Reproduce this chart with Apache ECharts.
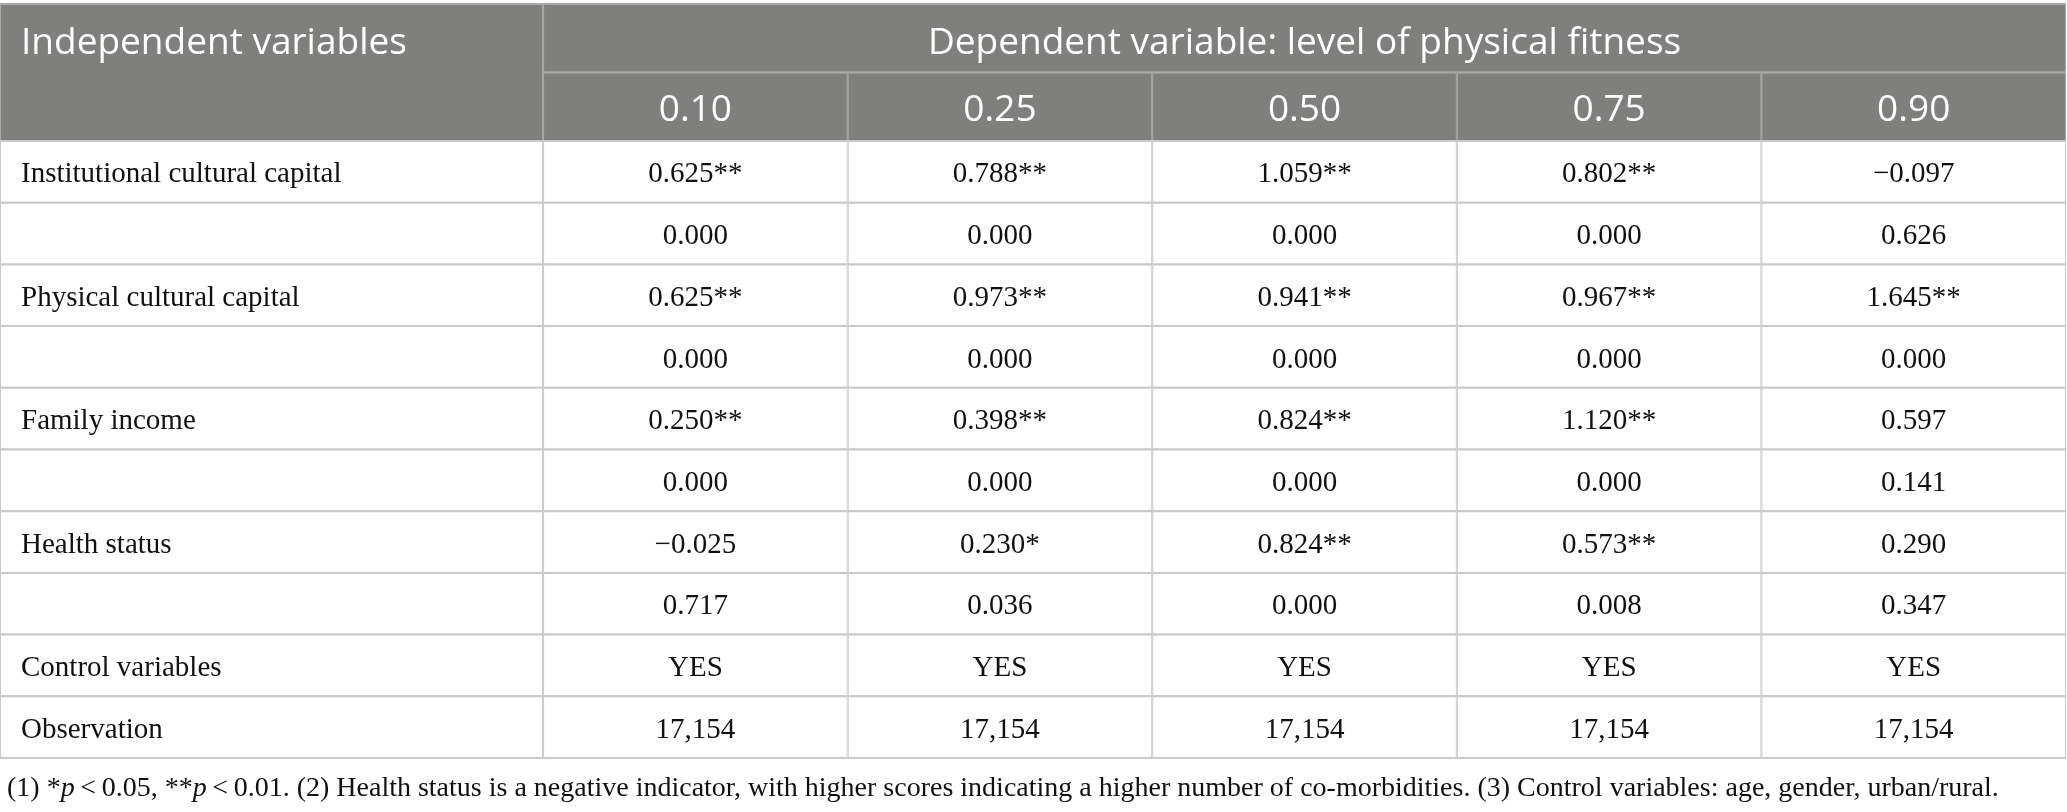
<!DOCTYPE html>
<html>
<head>
<meta charset="utf-8">
<title>Quantile regression table</title>
<style>
  html, body { margin: 0; padding: 0; background: #ffffff; }
  #chart { width: 2067px; height: 812px; }
</style>
<script src="https://cdn.jsdelivr.net/npm/echarts@6/dist/echarts.min.js"></script>
</head>
<body>
<div id="chart"></div>
<script>
// table content
const stubHead = 'Independent variables';
const spanHead = 'Dependent variable: level of physical fitness';
const quantiles = ['0.10', '0.25', '0.50', '0.75', '0.90'];
const rowLabels = [
    'Institutional cultural capital', '',
    'Physical cultural capital', '',
    'Family income', '',
    'Health status', '',
    'Control variables',
    'Observation'
];
const institutionalCoef = ['0.625**', '0.788**', '1.059**', '0.802**', '\u22120.097'];
const institutionalP    = ['0.000', '0.000', '0.000', '0.000', '0.626'];
const physicalCoef      = ['0.625**', '0.973**', '0.941**', '0.967**', '1.645**'];
const physicalP         = ['0.000', '0.000', '0.000', '0.000', '0.000'];
const incomeCoef        = ['0.250**', '0.398**', '0.824**', '1.120**', '0.597'];
const incomeP           = ['0.000', '0.000', '0.000', '0.000', '0.141'];
const healthCoef        = ['\u22120.025', '0.230*', '0.824**', '0.573**', '0.290'];
const healthP           = ['0.717', '0.036', '0.000', '0.008', '0.347'];
const controls          = ['YES', 'YES', 'YES', 'YES', 'YES'];
const observations      = ['17,154', '17,154', '17,154', '17,154', '17,154'];
const bodyRows = [
    institutionalCoef, institutionalP,
    physicalCoef, physicalP,
    incomeCoef, incomeP,
    healthCoef, healthP,
    controls, observations
];

// layout: first column is wider, header rows a bit taller than body rows
const FIRST_W = 1.783;
const HEAD_H = 1.11;
const HEAD_BG = '#7f807e';
const HEAD_LINE = '#a9aaa8';
const BODY_LINE = '#c9c9c9';
const SANS = '"Open Sans", "Noto Sans", sans-serif';
const SERIF = '"Liberation Serif", "DejaVu Serif", serif';

const colEdge = c => (c === 0 ? 0 : FIRST_W + c - 1);
const rowEdge = r => (r <= 2 ? r * HEAD_H : 2 * HEAD_H + (r - 2));

// build the cell list: [col, row, colspan, rowspan]
const cells = [];
cells.push({ value: [0, 0, 1, 2], text: stubHead, kind: 'stub' });
cells.push({ value: [1, 0, 5, 1], text: spanHead, kind: 'head' });
quantiles.forEach((q, i) => cells.push({ value: [i + 1, 1, 1, 1], text: q, kind: 'head' }));
rowLabels.forEach((label, r) => {
    cells.push({ value: [0, r + 2, 1, 1], text: label, kind: 'label' });
    bodyRows[r].forEach((v, i) => cells.push({ value: [i + 1, r + 2, 1, 1], text: v, kind: 'body' }));
});

function renderCell(params, api) {
    const cell = cells[params.dataIndex];
    const c = api.value(0), r = api.value(1), cs = api.value(2), rs = api.value(3);
    const p0 = api.coord([colEdge(c), rowEdge(r)]);
    const p1 = api.coord([colEdge(c + cs), rowEdge(r + rs)]);
    const x0 = p0[0], y0 = p0[1], x1 = p1[0], y1 = p1[1];
    const isHead = cell.kind === 'head' || cell.kind === 'stub';
    const line = isHead ? HEAD_LINE : BODY_LINE;
    const children = [
        { type: 'rect', shape: { x: x0, y: y0, width: x1 - x0, height: y1 - y0 },
          style: { fill: isHead ? HEAD_BG : '#ffffff' } },
        { type: 'line', shape: { x1: x0, y1: y0, x2: x1, y2: y0 }, style: { stroke: line, lineWidth: 2 } },
        { type: 'line', shape: { x1: x0, y1: y1, x2: x1, y2: y1 }, style: { stroke: line, lineWidth: 2 } },
        { type: 'line', shape: { x1: x0 + 0.5, y1: y0, x2: x0 + 0.5, y2: y1 }, style: { stroke: line, lineWidth: 1 } },
        { type: 'line', shape: { x1: x1 - 0.5, y1: y0, x2: x1 - 0.5, y2: y1 }, style: { stroke: line, lineWidth: 1 } }
    ];
    let tx, ty, align;
    if (cell.kind === 'stub') {
        // sits in the upper header row
        tx = x0 + 21; ty = api.coord([0, rowEdge(1) / 2])[1] + 5; align = 'left';
    } else if (cell.kind === 'label') {
        tx = x0 + 21; ty = (y0 + y1) / 2 + 3; align = 'left';
    } else if (isHead) {
        tx = (x0 + x1) / 2; ty = (y0 + y1) / 2 + (r === 0 ? 5 : 4); align = 'center';
    } else {
        tx = (x0 + x1) / 2; ty = (y0 + y1) / 2 + 3; align = 'center';
    }
    children.push({
        type: 'text',
        style: {
            text: cell.text, x: tx, y: ty, align: align, verticalAlign: 'middle',
            fill: isHead ? '#ffffff' : '#111111',
            font: isHead ? ('37px ' + SANS) : ('29px ' + SERIF)
        }
    });
    return { type: 'group', children: children };
}

const chart = echarts.init(document.getElementById('chart'), null, { renderer: 'canvas' });
chart.setOption({
    backgroundColor: '#ffffff',
    animation: false,
    title: {
        text: '(1) *{i|p}\u2009<\u20090.05, **{i|p}\u2009<\u20090.01. (2) Health status is a negative indicator, with higher scores indicating a higher number of co-morbidities. (3) Control variables: age, gender, urban/rural.',
        left: 2,
        top: 770,
        textStyle: {
            fontFamily: SERIF, fontSize: 28, fontWeight: 'normal', color: '#111111',
            rich: { i: { fontFamily: SERIF, fontSize: 28, fontStyle: 'italic', color: '#111111' } }
        }
    },
    grid: { left: 0, right: 1, top: 4, bottom: 54 },
    xAxis: { type: 'value', min: 0, max: FIRST_W + 5, show: false },
    yAxis: { type: 'value', min: 0, max: 2 * HEAD_H + rowLabels.length, inverse: true, show: false },
    series: [{
        type: 'custom',
        clip: false,
        renderItem: renderCell,
        encode: { x: 0, y: 1 },
        data: cells.map(c => c.value),
        silent: true
    }]
});
</script>
</body>
</html>
